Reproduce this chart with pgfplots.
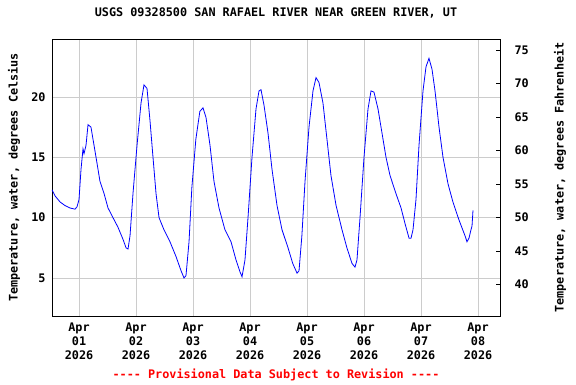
\documentclass[border=0pt]{standalone}
\usepackage{pgfplots}
\pgfplotsset{compat=1.18}
\usepackage{fontspec}
\setmonofont{DejaVu Sans Mono}
\setmainfont{DejaVu Sans Mono}
\definecolor{gridgray}{RGB}{204,204,204}
\begin{document}
\begin{tikzpicture}[font=\fontsize{11.8}{14}\selectfont\bfseries]
\useasboundingbox (-52pt,-68pt) rectangle (524pt,316pt);
\begin{axis}[
  scale only axis, width=448pt, height=277pt,
  xmin=-0.474, xmax=7.386, ymin=1.85, ymax=24.8,
  xtick={0,1,2,3,4,5,6,7},
  xticklabels={{Apr\\01\\2026},{Apr\\02\\2026},{Apr\\03\\2026},{Apr\\04\\2026},{Apr\\05\\2026},{Apr\\06\\2026},{Apr\\07\\2026},{Apr\\08\\2026}},
  xticklabel style={align=center, anchor=north, yshift=-3pt},
  ytick={5,10,15,20},
  yticklabel style={anchor=east, xshift=-3pt},
  /pgf/number format/assume math mode=true,
  major tick length=0pt,
  grid=major, major grid style={gridgray, line width=0.8pt},
  axis line style={black, line width=0.8pt},
  title={USGS 09328500 SAN RAFAEL RIVER NEAR GREEN RIVER, UT},
  title style={at={(rel axis cs:0.5,1)}, anchor=center, yshift=20pt},
  xlabel={{-}{-}{-}{-} Provisional Data Subject to Revision {-}{-}{-}{-}},
  xlabel style={at={(rel axis cs:0.5,0)}, anchor=center, yshift=-59pt, text=red},
  ylabel={Temperature, water, degrees Celsius},
  ylabel style={at={(rel axis cs:0,0.5)}, anchor=center, yshift=38pt},
]
\addplot[blue, line width=0.8pt] coordinates {
(-0.474,12.3)(-0.42,11.8)(-0.333,11.3)(-0.246,11.0)(-0.158,10.8)(-0.07,10.7)(-0.035,10.9)
(0.0,11.5)(0.035,14.0)(0.07,15.7)(0.088,15.3)(0.123,16.0)(0.158,17.7)(0.21,17.5)(0.263,16.0)
(0.316,14.5)(0.368,13.0)(0.439,12.0)(0.509,10.8)(0.596,10.0)(0.684,9.2)(0.772,8.2)(0.825,7.5)
(0.86,7.4)(0.895,8.5)(0.947,12.0)(1.018,16.0)(1.088,19.5)(1.14,21.0)(1.193,20.7)(1.246,18.0)
(1.298,15.0)(1.351,12.0)(1.404,10.0)(1.49,9.0)(1.596,8.0)(1.70,6.8)(1.79,5.6)(1.842,5.0)
(1.877,5.2)(1.93,8.0)(1.98,12.5)(2.05,16.5)(2.12,18.8)(2.175,19.1)(2.228,18.3)(2.298,16.0)
(2.368,13.0)(2.456,10.8)(2.56,9.0)(2.667,8.0)(2.754,6.5)(2.825,5.5)(2.86,5.1)(2.912,6.5)
(2.965,10.0)(3.035,15.0)(3.105,19.0)(3.158,20.5)(3.193,20.6)(3.246,19.3)(3.316,17.0)(3.386,14.0)
(3.474,11.0)(3.561,9.0)(3.667,7.5)(3.75,6.2)(3.825,5.4)(3.86,5.6)(3.91,8.5)(3.965,13.0)
(4.035,17.5)(4.105,20.5)(4.158,21.6)(4.21,21.2)(4.28,19.5)(4.35,16.5)(4.42,13.5)(4.51,11.0)
(4.614,9.0)(4.70,7.5)(4.79,6.2)(4.842,5.9)(4.877,6.5)(4.93,10.0)(5.0,15.0)(5.07,19.0)
(5.123,20.5)(5.175,20.4)(5.246,19.0)(5.316,17.0)(5.386,15.0)(5.456,13.5)(5.56,12.0)(5.65,10.8)
(5.72,9.5)(5.79,8.3)(5.825,8.3)(5.86,9.0)(5.912,11.5)(5.965,16.0)(6.035,20.5)(6.088,22.5)
(6.14,23.2)(6.193,22.3)(6.246,20.5)(6.316,17.5)(6.386,15.0)(6.474,12.8)(6.56,11.3)(6.667,9.8)
(6.772,8.5)(6.807,8.0)(6.842,8.3)(6.877,9.0)(6.895,9.3)(6.912,10.6)
};
\end{axis}
\begin{axis}[
  scale only axis, width=448pt, height=277pt,
  xmin=-0.474, xmax=7.386, ymin=35.33, ymax=76.64,
  axis x line=none, axis y line*=right,
  ytick={40,45,50,55,60,65,70,75},
  ytick pos=right, tick align=inside,
  major tick length=4pt,
  yticklabel style={anchor=west, xshift=11pt},
  /pgf/number format/assume math mode=true,
  axis line style={black, line width=0.8pt},
  tick style={black, line width=0.8pt},
  ylabel={Temperature, water, degrees Fahrenheit},
  ylabel style={at={(rel axis cs:1,0.5)}, anchor=center, yshift=-60pt},
]
\addplot[draw=none] coordinates {(0,40)};
\end{axis}
\end{tikzpicture}
\end{document}
